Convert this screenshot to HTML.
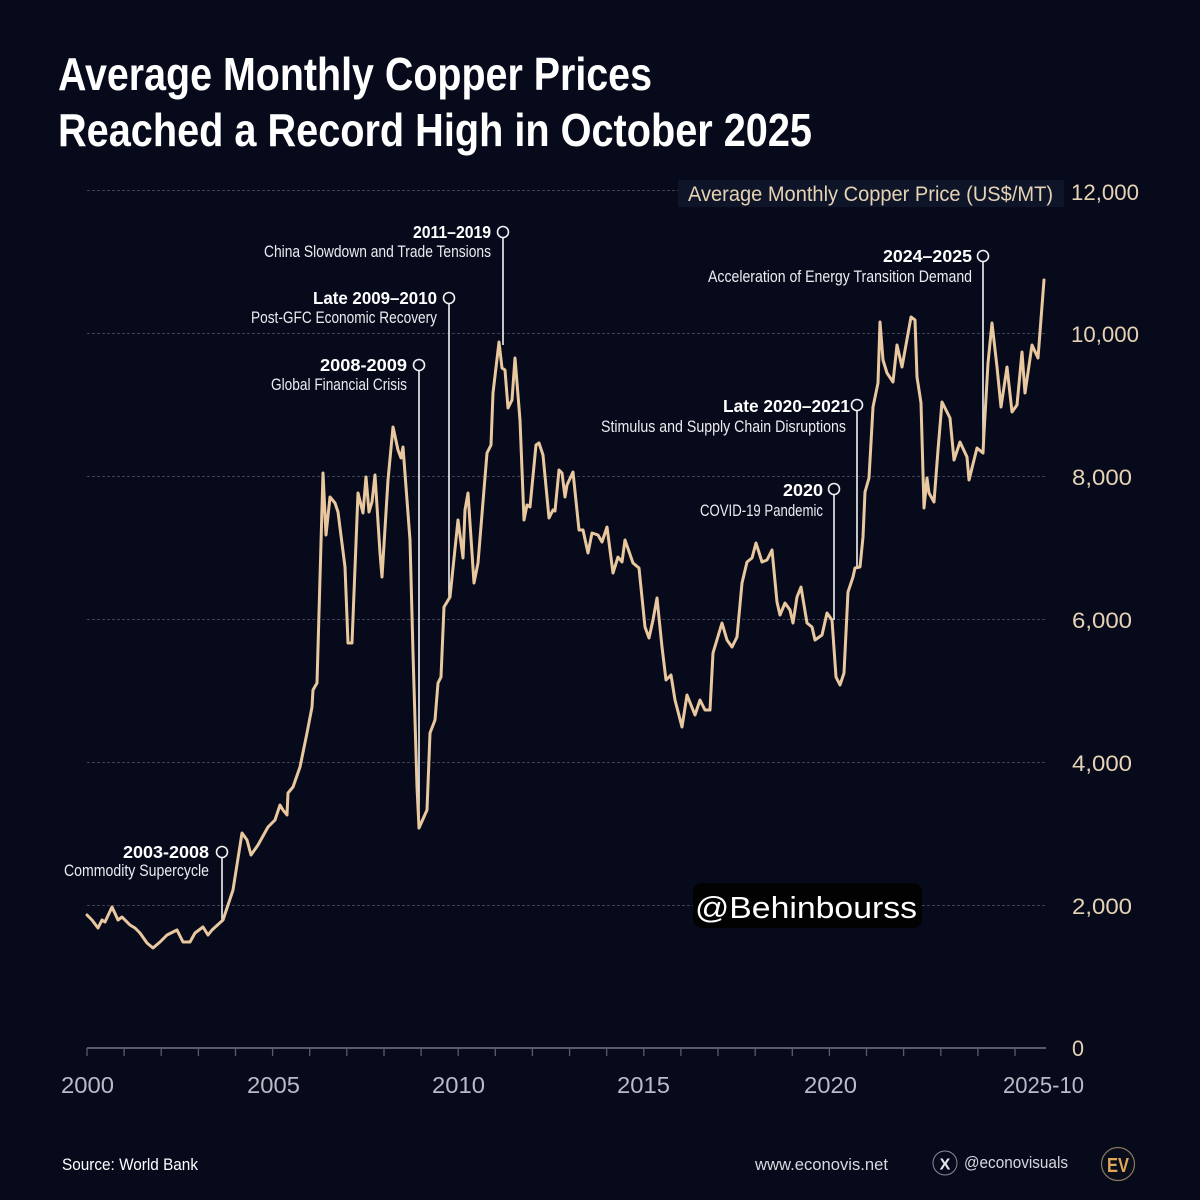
<!DOCTYPE html>
<html><head><meta charset="utf-8"><style>
html,body{margin:0;padding:0;background:#060a1b;}
svg{display:block;}
text{font-family:"Liberation Sans",sans-serif;}
</style></head><body>
<svg width="1200" height="1200" viewBox="0 0 1200 1200" xmlns="http://www.w3.org/2000/svg">
<rect x="0" y="0" width="1200" height="1200" fill="#060a1b"/>
<!-- Title -->
<text x="58" y="90" font-size="46" font-weight="bold" fill="#ffffff" textLength="594" lengthAdjust="spacingAndGlyphs">Average Monthly Copper Prices</text>
<text x="58" y="146" font-size="46" font-weight="bold" fill="#ffffff" textLength="754" lengthAdjust="spacingAndGlyphs">Reached a Record High in October 2025</text>

<!-- gridlines -->
<g stroke="#3b4053" stroke-width="1" stroke-dasharray="3,2">
<line x1="87" y1="190.5" x2="678" y2="190.5"/>
<line x1="87" y1="333.5" x2="1047" y2="333.5"/>
<line x1="87" y1="476.5" x2="1047" y2="476.5"/>
<line x1="87" y1="619.5" x2="1047" y2="619.5"/>
<line x1="87" y1="762.5" x2="1047" y2="762.5"/>
<line x1="87" y1="905.5" x2="1047" y2="905.5"/>
</g>
<!-- y axis title box -->
<rect x="678" y="180" width="386" height="27" fill="#0e1528"/>
<text x="688" y="201" font-size="21" fill="#e6d2b5" textLength="365" lengthAdjust="spacingAndGlyphs">Average Monthly Copper Price (US$/MT)</text>
<g font-size="22" fill="#e6d2b5">
<text x="1071" y="200" textLength="68" lengthAdjust="spacingAndGlyphs">12,000</text>
<text x="1071" y="342" textLength="68" lengthAdjust="spacingAndGlyphs">10,000</text>
<text x="1072" y="485" textLength="60" lengthAdjust="spacingAndGlyphs">8,000</text>
<text x="1072" y="628" textLength="60" lengthAdjust="spacingAndGlyphs">6,000</text>
<text x="1072" y="771" textLength="60" lengthAdjust="spacingAndGlyphs">4,000</text>
<text x="1072" y="914" textLength="60" lengthAdjust="spacingAndGlyphs">2,000</text>
<text x="1072" y="1056" textLength="12" lengthAdjust="spacingAndGlyphs">0</text>
</g>

<!-- x axis -->
<line x1="87" y1="1048" x2="1046" y2="1048" stroke="#585c6c" stroke-width="2"/>
<g stroke="#585c6c" stroke-width="1.3" id="ticks">
<line x1="87.0" y1="1048" x2="87.0" y2="1056"/>
<line x1="124.1" y1="1048" x2="124.1" y2="1056"/>
<line x1="161.2" y1="1048" x2="161.2" y2="1056"/>
<line x1="198.4" y1="1048" x2="198.4" y2="1056"/>
<line x1="235.5" y1="1048" x2="235.5" y2="1056"/>
<line x1="272.6" y1="1048" x2="272.6" y2="1056"/>
<line x1="309.7" y1="1048" x2="309.7" y2="1056"/>
<line x1="346.8" y1="1048" x2="346.8" y2="1056"/>
<line x1="384.0" y1="1048" x2="384.0" y2="1056"/>
<line x1="421.1" y1="1048" x2="421.1" y2="1056"/>
<line x1="458.2" y1="1048" x2="458.2" y2="1056"/>
<line x1="495.3" y1="1048" x2="495.3" y2="1056"/>
<line x1="532.4" y1="1048" x2="532.4" y2="1056"/>
<line x1="569.6" y1="1048" x2="569.6" y2="1056"/>
<line x1="606.7" y1="1048" x2="606.7" y2="1056"/>
<line x1="643.8" y1="1048" x2="643.8" y2="1056"/>
<line x1="680.9" y1="1048" x2="680.9" y2="1056"/>
<line x1="718.0" y1="1048" x2="718.0" y2="1056"/>
<line x1="755.2" y1="1048" x2="755.2" y2="1056"/>
<line x1="792.3" y1="1048" x2="792.3" y2="1056"/>
<line x1="829.4" y1="1048" x2="829.4" y2="1056"/>
<line x1="866.5" y1="1048" x2="866.5" y2="1056"/>
<line x1="903.6" y1="1048" x2="903.6" y2="1056"/>
<line x1="940.8" y1="1048" x2="940.8" y2="1056"/>
<line x1="977.9" y1="1048" x2="977.9" y2="1056"/>
<line x1="1015.0" y1="1048" x2="1015.0" y2="1056"/>
</g>
<g font-size="23" fill="#b9bbc6">
<text x="61" y="1093" textLength="53" lengthAdjust="spacingAndGlyphs">2000</text>
<text x="247" y="1093" textLength="53" lengthAdjust="spacingAndGlyphs">2005</text>
<text x="432" y="1093" textLength="53" lengthAdjust="spacingAndGlyphs">2010</text>
<text x="617" y="1093" textLength="53" lengthAdjust="spacingAndGlyphs">2015</text>
<text x="804" y="1093" textLength="53" lengthAdjust="spacingAndGlyphs">2020</text>
<text x="1003" y="1093" textLength="81" lengthAdjust="spacingAndGlyphs">2025-10</text>
</g>

<!-- annotation leader lines -->
<g stroke="#f2f2f4" stroke-width="1.6" fill="none">
<line x1="222" y1="857.5" x2="222" y2="921"/>
<circle cx="222" cy="852" r="5.5"/>
<line x1="419" y1="370.5" x2="419" y2="828"/>
<circle cx="419" cy="365" r="5.5"/>
<line x1="449" y1="303.5" x2="449" y2="597"/>
<circle cx="449" cy="298" r="5.5"/>
<line x1="503" y1="237.5" x2="503" y2="345"/>
<circle cx="503" cy="232" r="5.5"/>
<line x1="834" y1="494.5" x2="834" y2="620"/>
<circle cx="834" cy="489" r="5.5"/>
<line x1="857" y1="410.5" x2="857" y2="567"/>
<circle cx="857" cy="405" r="5.5"/>
<line x1="983" y1="261.5" x2="983" y2="440"/>
<circle cx="983" cy="256" r="5.5"/>
</g>

<!-- price line -->
<polyline fill="none" stroke="#e9c8a0" stroke-width="3" stroke-linejoin="round" stroke-linecap="round" points="
87,915 92,920 98,928 102,920 105,922 112,907 118,920 122,917 130,925 135,928 140,933 147,943 153,948 160,942 167,935 177,930 183,942 190,942 195,933 203,927 208,935 212,930 223,920 233,890 242,833 247,840 251,855 258,845 268,827 275,820 280,805 283,810 287,815 288,793 293,787 300,767 307,733 312,707 313,690 317,683 323,473 326,535 330,497 335,503 338,512
345,567 348,643 352,643 358,493 363,513 366,477 369,512 372,502 375,475 380,553 382,577 388,480 393,427 398,450 401,458 403,447 410,540 413,653 417,787 419,828 427,810 430,733 435,720 438,683 441,677 444,607 450,597 458,520 463,558 465,510 468,493 474,583 478,563 487,453 491,445 493,393 499,342 502,368 505,370 508,408 512,400 515,358 520,420 524,520 527,505 530,507 536,445 539,443 543,455 549,518 553,510 555,511 559,470 562,473 565,497 567,485 573,472 579,530 583,530
588,553 592,533 598,535 602,542 607,527 613,573 618,557 622,562 625,540 633,563 639,568 645,627 649,638 653,620 657,598 662,647 666,680 671,675 675,700 682,727 687,695 695,715 700,700 705,710 710,710 713,653 722,623 727,640 732,647 737,637 742,583 747,562 752,558 756,543 762,562 767,560 772,550 777,602 780,615 785,603 790,610 793,623 797,597 801,587 807,623 812,627 815,640 822,635 827,613 832,620
836,677 840,685 844,673 848,592 853,577 855,568 860,567 863,537 865,492 869,478 873,407 878,383 880,322 883,360 887,373 893,382 897,345 902,367 911,317 915,320 917,377 921,403 924,508 927,478 929,493 934,502 938,450 942,402 950,418 954,460 960,442 967,457 969,480 977,448 983,453 984,433 988,363 992,323 997,367 1001,407 1007,367 1012,412 1017,405 1022,352 1025,393 1032,345 1038,358 1044,280"/>

<!-- annotation texts -->
<g fill="#ffffff">
<text x="123" y="858" font-size="17.5" font-weight="bold" textLength="86" lengthAdjust="spacingAndGlyphs">2003-2008</text>
<text x="64" y="876" font-size="17" fill="#ececf0" textLength="145" lengthAdjust="spacingAndGlyphs">Commodity Supercycle</text>

<text x="320" y="371" font-size="17.5" font-weight="bold" textLength="87" lengthAdjust="spacingAndGlyphs">2008-2009</text>
<text x="271" y="390" font-size="17" fill="#ececf0" textLength="136" lengthAdjust="spacingAndGlyphs">Global Financial Crisis</text>

<text x="313" y="304" font-size="17.5" font-weight="bold" textLength="124" lengthAdjust="spacingAndGlyphs">Late 2009–2010</text>
<text x="251" y="323" font-size="17" fill="#ececf0" textLength="186" lengthAdjust="spacingAndGlyphs">Post-GFC Economic Recovery</text>

<text x="413" y="238" font-size="17.5" font-weight="bold" textLength="78" lengthAdjust="spacingAndGlyphs">2011–2019</text>
<text x="264" y="257" font-size="17" fill="#ececf0" textLength="227" lengthAdjust="spacingAndGlyphs">China Slowdown and Trade Tensions</text>

<text x="783" y="496" font-size="17.5" font-weight="bold" textLength="40" lengthAdjust="spacingAndGlyphs">2020</text>
<text x="700" y="516" font-size="17" fill="#ececf0" textLength="123" lengthAdjust="spacingAndGlyphs">COVID-19 Pandemic</text>

<text x="723" y="412" font-size="17.5" font-weight="bold" textLength="127" lengthAdjust="spacingAndGlyphs">Late 2020–2021</text>
<text x="601" y="432" font-size="17" fill="#ececf0" textLength="245" lengthAdjust="spacingAndGlyphs">Stimulus and Supply Chain Disruptions</text>

<text x="883" y="262" font-size="17.5" font-weight="bold" textLength="89" lengthAdjust="spacingAndGlyphs">2024–2025</text>
<text x="708" y="282" font-size="17" fill="#ececf0" textLength="264" lengthAdjust="spacingAndGlyphs">Acceleration of Energy Transition Demand</text>
</g>

<!-- watermark -->
<rect x="693" y="883" width="229" height="45" rx="9" fill="#020203"/>
<text x="695" y="918" font-size="31" fill="#ffffff" textLength="222" lengthAdjust="spacingAndGlyphs">@Behinbourss</text>

<!-- footer -->
<text x="62" y="1170" font-size="17" fill="#ffffff" textLength="136" lengthAdjust="spacingAndGlyphs">Source: World Bank</text>
<text x="755" y="1170" font-size="17" fill="#d8d8de" textLength="133" lengthAdjust="spacingAndGlyphs">www.econovis.net</text>
<circle cx="945" cy="1163" r="12" fill="none" stroke="#8a8c98" stroke-width="1"/>
<text x="945" y="1169.5" font-size="16" font-weight="bold" fill="#e8e8ee" text-anchor="middle">X</text>
<text x="964" y="1168" font-size="17" fill="#d8d8de" textLength="104" lengthAdjust="spacingAndGlyphs">@econovisuals</text>
<circle cx="1118" cy="1164" r="16.5" fill="#0a0d1a" stroke="#8a7a60" stroke-width="1.2"/>
<text x="1118" y="1172" font-size="20" font-weight="bold" fill="#e0a85a" text-anchor="middle" textLength="22" lengthAdjust="spacingAndGlyphs">EV</text>
</svg>
</body></html>
